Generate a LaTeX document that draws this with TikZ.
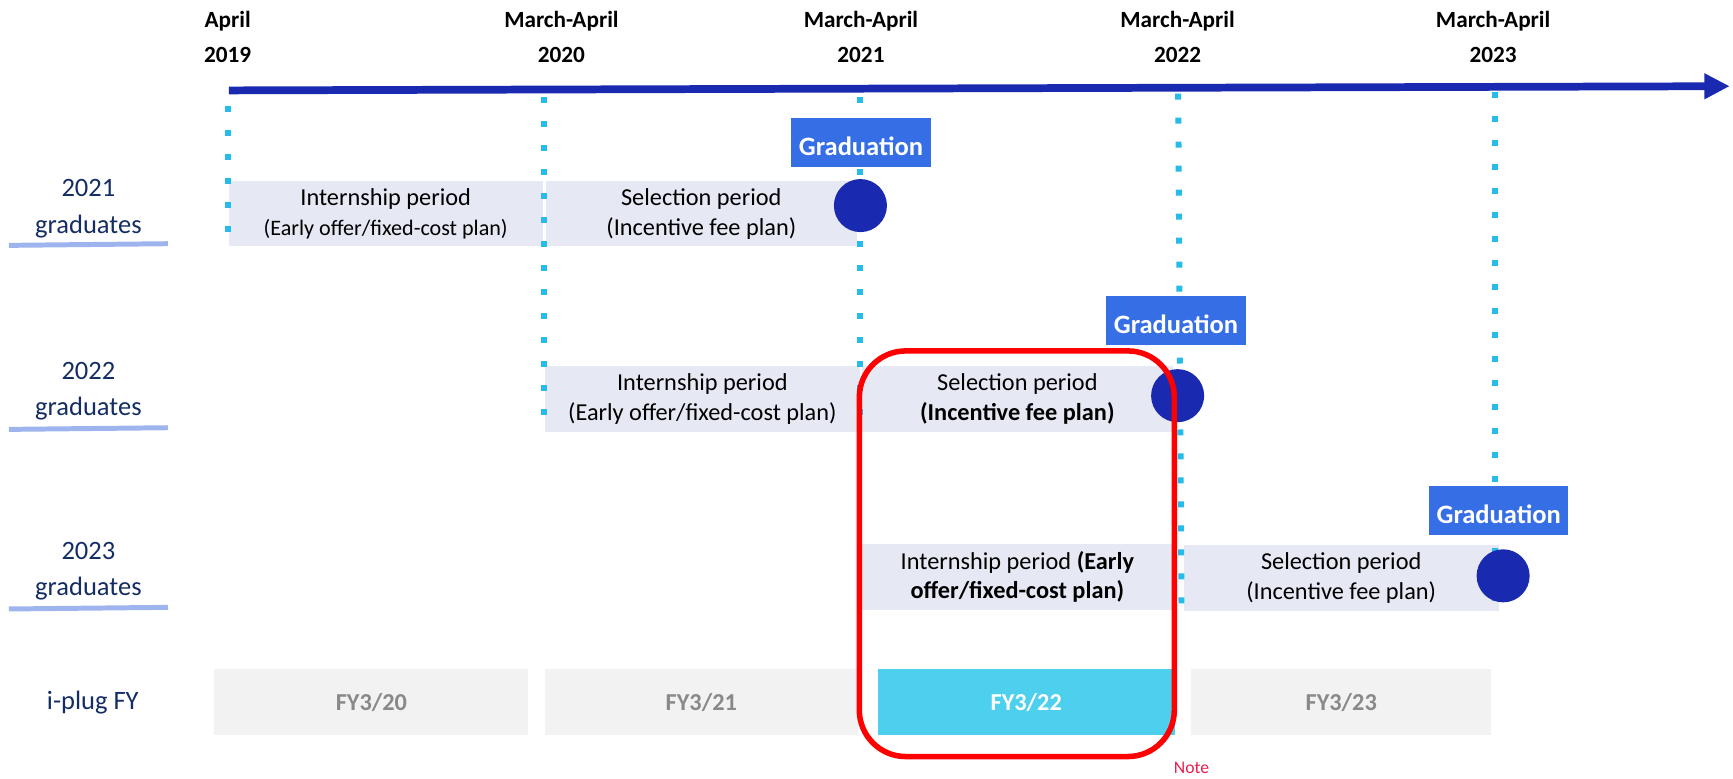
\documentclass[tikz,border=0pt]{standalone}
\usepackage{fontspec}
\setmainfont{Carlito}
\usetikzlibrary{arrows.meta}
\definecolor{lav}{RGB}{230,232,244}
\definecolor{fygray}{RGB}{242,242,242}
\definecolor{fytext}{RGB}{137,137,137}
\definecolor{fycyan}{RGB}{77,208,238}
\definecolor{gblue}{RGB}{54,110,230}
\definecolor{dblue}{RGB}{26,42,176}
\definecolor{navy}{RGB}{20,45,100}
\definecolor{cyanl}{RGB}{38,187,234}
\definecolor{ulinec}{RGB}{158,180,238}
\definecolor{notec}{RGB}{232,30,80}
\begin{document}
\begin{tikzpicture}[x=1pt,y=-1pt,
  hdr/.style={font=\fontsize{21}{32}\selectfont\bfseries, align=center, inner sep=0pt},
  rowlab/.style={font=\fontsize{24}{33}\selectfont, text=navy, align=center, inner sep=0pt},
  period/.style={fill=lav, inner sep=0pt, align=center, font=\fontsize{22}{27}\selectfont},
  grad/.style={fill=gblue, text=white, font=\fontsize{24}{28}\selectfont\bfseries, minimum width=126pt, minimum height=44pt, inner sep=0pt, text height=24pt, text depth=0pt},
  gradcircle/.style={circle, fill=dblue, minimum size=48pt, inner sep=0pt},
  fybox/.style={fill=fygray, text=fytext, font=\fontsize{22}{26}\selectfont\bfseries, minimum height=60pt, inner sep=0pt, text height=16pt, text depth=0pt},
  vline/.style={draw=cyanl, line width=5.4pt, dash pattern=on 5.4pt off 16.3pt},
  uline/.style={draw=ulinec, line width=4.5pt},
  axis/.style={draw=dblue, line width=7pt, -{Triangle[length=23pt,width=22pt]}},
  hlbox/.style={draw=red, line width=5pt, rounded corners=42pt, inner sep=0pt, minimum width=285pt, minimum height=367pt}
]
\useasboundingbox (0,0) rectangle (1568,704);

% time axis
\coordinate (ax0) at (207,81.8);
\coordinate (ax1) at (1565,78);
\draw[axis] (ax0) -- (ax1);

% header labels
\node[hdr] (h19) at (206,33.6) {April\\2019};
\node[hdr] (h20) at (508,33.6) {March-April\\2020};
\node[hdr] (h21) at (779,33.6) {March-April\\2021};
\node[hdr] (h22) at (1065.5,33.6) {March-April\\2022};
\node[hdr] (h23) at (1351,33.6) {March-April\\2023};

% period boxes
\node[period, minimum width=284pt, minimum height=59pt] (r1a) at (349,193.5)
  {Internship period\\{\fontsize{20}{25}\selectfont (Early offer/fixed-cost plan)}};
\node[period, minimum width=281pt, minimum height=59pt] (r1b) at (634.5,193.5)
  {Selection period\\(Incentive fee plan)};
\node[period, minimum width=285pt, minimum height=60pt] (r2a) at (635.5,361)
  {Internship period\\(Early offer/fixed-cost plan)};
\node[period, minimum width=281pt, minimum height=60pt] (r2b) at (920.5,361)
  {Selection period\\\textbf{(Incentive fee plan)}};
\node[period, minimum width=281pt, minimum height=60pt] (r3a) at (920.5,522)
  {Internship period \textbf{(Early}\\\textbf{offer/fixed-cost plan)}};
\node[period, minimum width=285pt, minimum height=60pt] (r3b) at (1213.5,523)
  {Selection period\\(Incentive fee plan)};

% dotted guide lines
\coordinate (dA0) at (206,96.3);    \coordinate (dA1) at (206,210.7);
\coordinate (dB0) at (492,87.8);    \coordinate (dB1) at (492,375.7);
\coordinate (dC0) at (778.5,87.8);  \coordinate (dC1) at (778.5,375.7);
\coordinate (dD0) at (1066,84.8);   \coordinate (dD1) at (1069,546.7);
\coordinate (dE0) at (1352.5,83.3); \coordinate (dE1) at (1352.5,543.7);
\draw[vline] (dA0) -- (dA1);
\draw[vline] (dB0) -- (dB1);
\draw[vline] (dC0) -- (dC1);
\draw[vline] (dD0) -- (dD1);
\draw[vline] (dE0) -- (dE1);

% fiscal-year boxes
\node[fybox, minimum width=284pt] (fy20) at (336,635) {FY3/20};
\node[fybox, minimum width=283pt] (fy21) at (634.5,635) {FY3/21};
\node[fybox, minimum width=269pt, fill=fycyan, text=white] (fy22) at (928.5,635) {FY3/22};
\node[fybox, minimum width=271pt] (fy23) at (1213.5,635) {FY3/23};

% graduation markers
\node[grad] (g1) at (779,129) {Graduation};
\node[grad] (g2) at (1064,290) {Graduation};
\node[grad] (g3) at (1356,462) {Graduation};
\node[gradcircle] (c1) at (778.5,186) {};
\node[gradcircle] (c2) at (1065.5,358) {};
\node[gradcircle] (c3) at (1360,521) {};

% highlight
\node[hlbox] (hl) at (920,501) {};
\node[font=\fontsize{16}{19}\selectfont, text=notec, anchor=base west, inner sep=0pt] (note) at (1062,700) {Note};

% row labels
\node[rowlab] (l21) at (80,189) {2021\\graduates};
\node[rowlab] (l22) at (80,354) {2022\\graduates};
\node[rowlab] (l23) at (80,517) {2023\\graduates};
\node[font=\fontsize{24}{28}\selectfont, text=navy, inner sep=0pt] (lfy) at (84,636) {i-plug FY};
\coordinate (u1a) at (8,222);   \coordinate (u1b) at (152,220.5);
\coordinate (u2a) at (8,388.5); \coordinate (u2b) at (152,387);
\coordinate (u3a) at (8,551);   \coordinate (u3b) at (152,549.5);
\draw[uline] (u1a) -- (u1b);
\draw[uline] (u2a) -- (u2b);
\draw[uline] (u3a) -- (u3b);
\end{tikzpicture}
\end{document}
